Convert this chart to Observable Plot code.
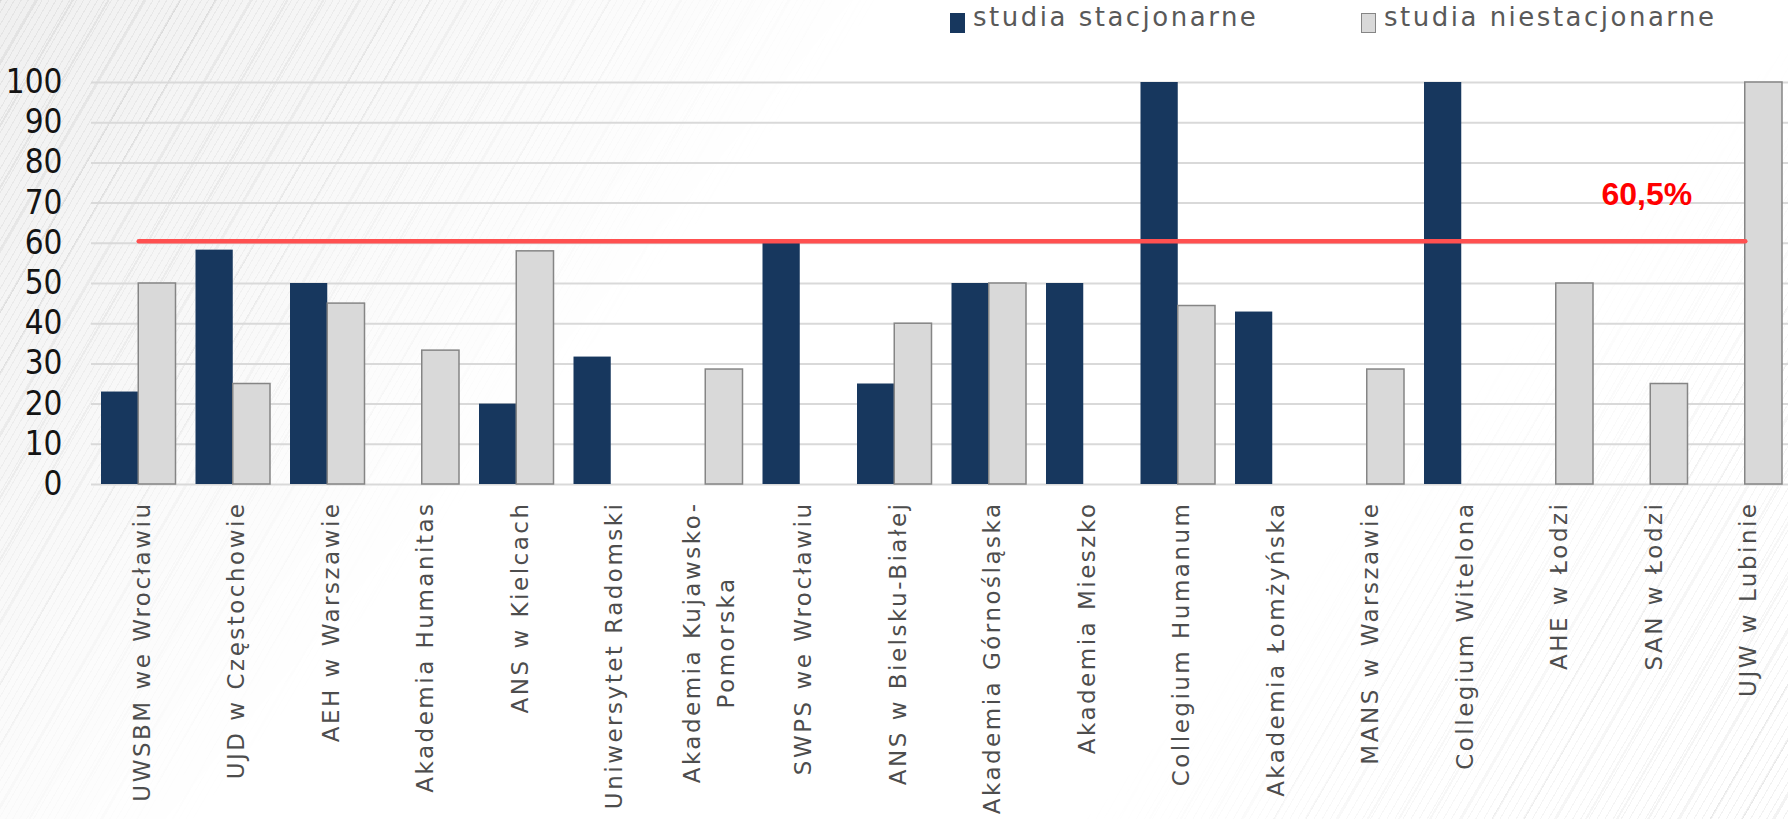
<!DOCTYPE html>
<html>
<head>
<meta charset="utf-8">
<script src="https://cdn.jsdelivr.net/npm/d3@7"></script>
<script src="https://cdn.jsdelivr.net/npm/@observablehq/plot@0.6"></script>
<style>
  html, body { margin: 0; padding: 0; background: #fff; }
  #wrap { position: relative; width: 1788px; height: 819px; overflow: hidden; background: #fff; }
  .streaks-left {
    position: absolute; left: 0; top: 0; width: 1788px; height: 819px;
    background:
      repeating-linear-gradient(120deg, rgba(110,110,110,0.10) 0px, rgba(110,110,110,0.10) 1px, transparent 1px, transparent 6px),
      repeating-linear-gradient(120deg, rgba(90,90,90,0.10) 0px, rgba(90,90,90,0.10) 2px, transparent 2px, transparent 31px),
      linear-gradient(130deg, rgba(0,0,0,0.06), rgba(0,0,0,0.0));
    -webkit-mask-image: linear-gradient(130deg, rgba(0,0,0,1) 0%, rgba(0,0,0,0.7) 15%, rgba(0,0,0,0.25) 28%, rgba(0,0,0,0) 36%);
    mask-image: linear-gradient(130deg, rgba(0,0,0,1) 0%, rgba(0,0,0,0.7) 15%, rgba(0,0,0,0.25) 28%, rgba(0,0,0,0) 36%);
  }
  .streaks-right {
    position: absolute; left: 0; top: 0; width: 1788px; height: 819px;
    background:
      repeating-linear-gradient(120deg, rgba(110,110,110,0.10) 0px, rgba(110,110,110,0.10) 1px, transparent 1px, transparent 7px),
      repeating-linear-gradient(120deg, rgba(90,90,90,0.08) 0px, rgba(90,90,90,0.08) 2px, transparent 2px, transparent 27px);
    -webkit-mask-image: linear-gradient(132deg, rgba(0,0,0,0) 72%, rgba(0,0,0,0.5) 82%, rgba(0,0,0,0.9) 100%);
    mask-image: linear-gradient(132deg, rgba(0,0,0,0) 72%, rgba(0,0,0,0.5) 82%, rgba(0,0,0,0.9) 100%);
  }
  #chart { position: absolute; left: 0; top: 0; }
  .sw { position: absolute; top: 13px; width: 15px; height: 20px; box-sizing: border-box; }
  .lt { position: absolute; top: 4px; font-family: "DejaVu Sans", sans-serif; font-size: 26px; line-height: 26px;
        letter-spacing: 2.5px; color: #595959; white-space: nowrap; }
  g[aria-label="x-axis tick label"] text { letter-spacing: 2.5px; }
</style>
</head>
<body>
<div id="wrap">
  <div class="streaks-left"></div>
  <div class="streaks-right"></div>
  <div id="chart"></div>
  <div id="legend"></div>
</div>
<script>
// ---- data ----
const categories = [
  "UWSBM we Wrocławiu",
  "UJD w Częstochowie",
  "AEH w Warszawie",
  "Akademia Humanitas",
  "ANS w Kielcach",
  "Uniwersytet Radomski",
  "Akademia Kujawsko-\nPomorska",
  "SWPS we Wrocławiu",
  "ANS w Bielsku-Białej",
  "Akademia Górnośląska",
  "Akademia Mieszko",
  "Collegium Humanum",
  "Akademia Łomżyńska",
  "MANS w Warszawie",
  "Collegium Witelona",
  "AHE w Łodzi",
  "SAN w Łodzi",
  "UJW w Lubinie"
];
const seriesNames = ["studia stacjonarne", "studia niestacjonarne"];
const stacjonarne    = [23, 58.3, 50, null, 20, 31.7, null, 60, 25, 50, 50, 100, 42.9, null, 100, null, null, null];
const niestacjonarne = [50, 25, 45, 33.3, 58, null, 28.6, null, 40, 50, null, 44.4, null, 28.6, null, 50, 25, 100];
const yTicks = [0, 10, 20, 30, 40, 50, 60, 70, 80, 90, 100];
const avgValue = 60.5;
const avgLabel = "60,5%";
const avgLabelCategory = "SAN w Łodzi";
const avgLabelY = 72;

// ---- styles ----
const colDark = "#17375e";
const colLight = "#d9d9d9";
const colLightStroke = "#858585";

const rowsS = categories.map((c, i) => ({cat: c, v: stacjonarne[i]})).filter(d => d.v != null);
const rowsN = categories.map((c, i) => ({cat: c, v: niestacjonarne[i]})).filter(d => d.v != null);

const chart = Plot.plot({
  width: 1788,
  height: 819,
  marginTop: 82,
  marginBottom: 335,
  marginLeft: 91,
  marginRight: 0,
  style: {background: "transparent", overflow: "visible"},
  x: {type: "band", domain: categories, range: [91, 1792], padding: 0, round: false},
  y: {domain: [0, 100]},
  marks: [
    Plot.gridY(yTicks, {stroke: "#d9d9d9", strokeOpacity: 1, strokeWidth: 2}),
    Plot.barY(rowsS, {x: "cat", y: "v", fill: colDark, insetLeft: 10, insetRight: 47.25}),
    Plot.barY(rowsN, {x: "cat", y: "v", fill: colLight, stroke: colLightStroke, strokeWidth: 1.5, insetLeft: 47.25, insetRight: 10}),
    Plot.lineY(categories, {x: d => d, y: () => avgValue, stroke: "#ff5050", strokeWidth: 4.5, strokeLinecap: "round"}),
    Plot.text([avgLabel], {x: () => avgLabelCategory, y: () => avgLabelY, text: d => d, fill: "#ff0000", dx: -4,
      fontSize: 32, fontWeight: "bold", fontFamily: "Liberation Sans, Arial, sans-serif"}),
    Plot.axisY(yTicks, {tickSize: 0, tickPadding: 29, fontSize: 33, label: null,
      fontFamily: "'Liberation Sans Narrow', 'DejaVu Sans Condensed', 'Liberation Sans', sans-serif", fill: "#141414"}),
    Plot.axisX({tickSize: 0, tickPadding: 17, tickRotate: -90, fontSize: 23, lineHeight: 1.5, label: null,
      fontFamily: "'DejaVu Sans', sans-serif", fill: "#4d4d4d"})
  ]
});
document.getElementById("chart").appendChild(chart);

// centre the lines of multi-line category labels on each other
chart.querySelectorAll('g[aria-label="x-axis tick label"] text').forEach(t => {
  const spans = t.querySelectorAll("tspan");
  if (spans.length > 1) {
    const L = Math.max(...Array.from(spans, s => s.getComputedTextLength()));
    t.setAttribute("text-anchor", "middle");
    spans.forEach(s => s.setAttribute("x", -L / 2));
  }
});

// legend
const legend = document.getElementById("legend");
const legendItems = [
  {name: seriesNames[0], fill: colDark, border: "none", left: 950},
  {name: seriesNames[1], fill: colLight, border: "1.5px solid " + colLightStroke, left: 1361}
];
legendItems.forEach(it => {
  const sw = document.createElement("div");
  sw.className = "sw";
  sw.style.left = it.left + "px";
  sw.style.background = it.fill;
  sw.style.border = it.border;
  legend.appendChild(sw);
  const lt = document.createElement("div");
  lt.className = "lt";
  lt.style.left = (it.left + 23) + "px";
  lt.textContent = it.name;
  legend.appendChild(lt);
});
</script>
</body>
</html>
